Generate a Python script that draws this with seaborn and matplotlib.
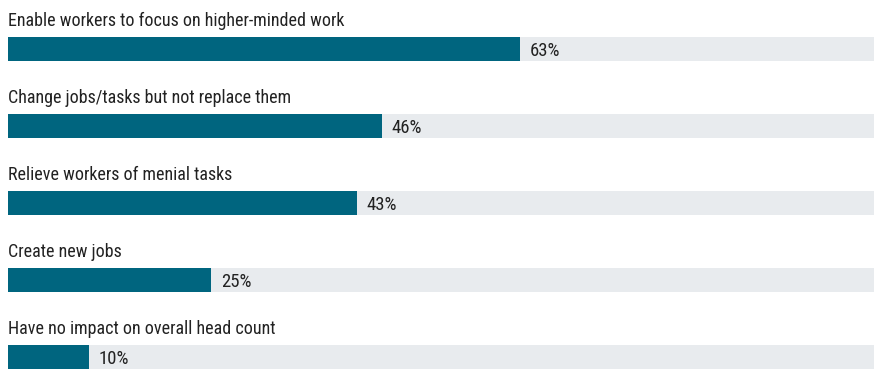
import matplotlib
matplotlib.use("Agg")
import matplotlib.pyplot as plt
import seaborn as sns
import pandas as pd

categories = [
    "Enable workers to focus on higher-minded work",
    "Change jobs/tasks but not replace them",
    "Relieve workers of menial tasks",
    "Create new jobs",
    "Have no impact on overall head count",
]
values = [63, 46, 43, 25, 10]
value_labels = ["63%", "46%", "43%", "25%", "10%"]

sns.set_theme(style="white")
plt.rcParams["font.family"] = ["Roboto Condensed", "Roboto", "DejaVu Sans"]

TEAL = "#00657f"
GRAY = "#e8ebee"
TEXT = "#222222"

W, H = 877, 371
fig = plt.figure(figsize=(W / 100, H / 100), dpi=100)
left_px, right_px = 8, 874
ax = fig.add_axes([left_px / W, 0, (right_px - left_px) / W, 1])

xmax = (right_px - left_px) / 8.12
df = pd.DataFrame({"category": categories, "value": values,
                   "full": [xmax] * len(values)})

bar_h = 24 / 77
sns.barplot(data=df, x="full", y="category", orient="h", color=GRAY,
            width=bar_h, saturation=1, linewidth=0, ax=ax)
sns.barplot(data=df, x="value", y="category", orient="h", color=TEAL,
            width=bar_h, saturation=1, linewidth=0, ax=ax)

ax.set_xlim(0, xmax)
ax.set_ylim((H - 49) / 77, -49 / 77)

for i, (cat, v, lab) in enumerate(zip(categories, values, value_labels)):
    ax.text(0, i - bar_h / 2 - 11 / 77, cat, ha="left", va="baseline",
            fontsize=13, color=TEXT)
    ax.text(v + 1.2, i + 0.02, lab, ha="left", va="center",
            fontsize=13.5, color=TEXT)

ax.set_xlabel("")
ax.set_ylabel("")
ax.set_xticks([])
ax.set_yticks([])
for s in ax.spines.values():
    s.set_visible(False)
ax.patch.set_alpha(0)

fig.savefig("out.png", dpi=100, facecolor="white")
